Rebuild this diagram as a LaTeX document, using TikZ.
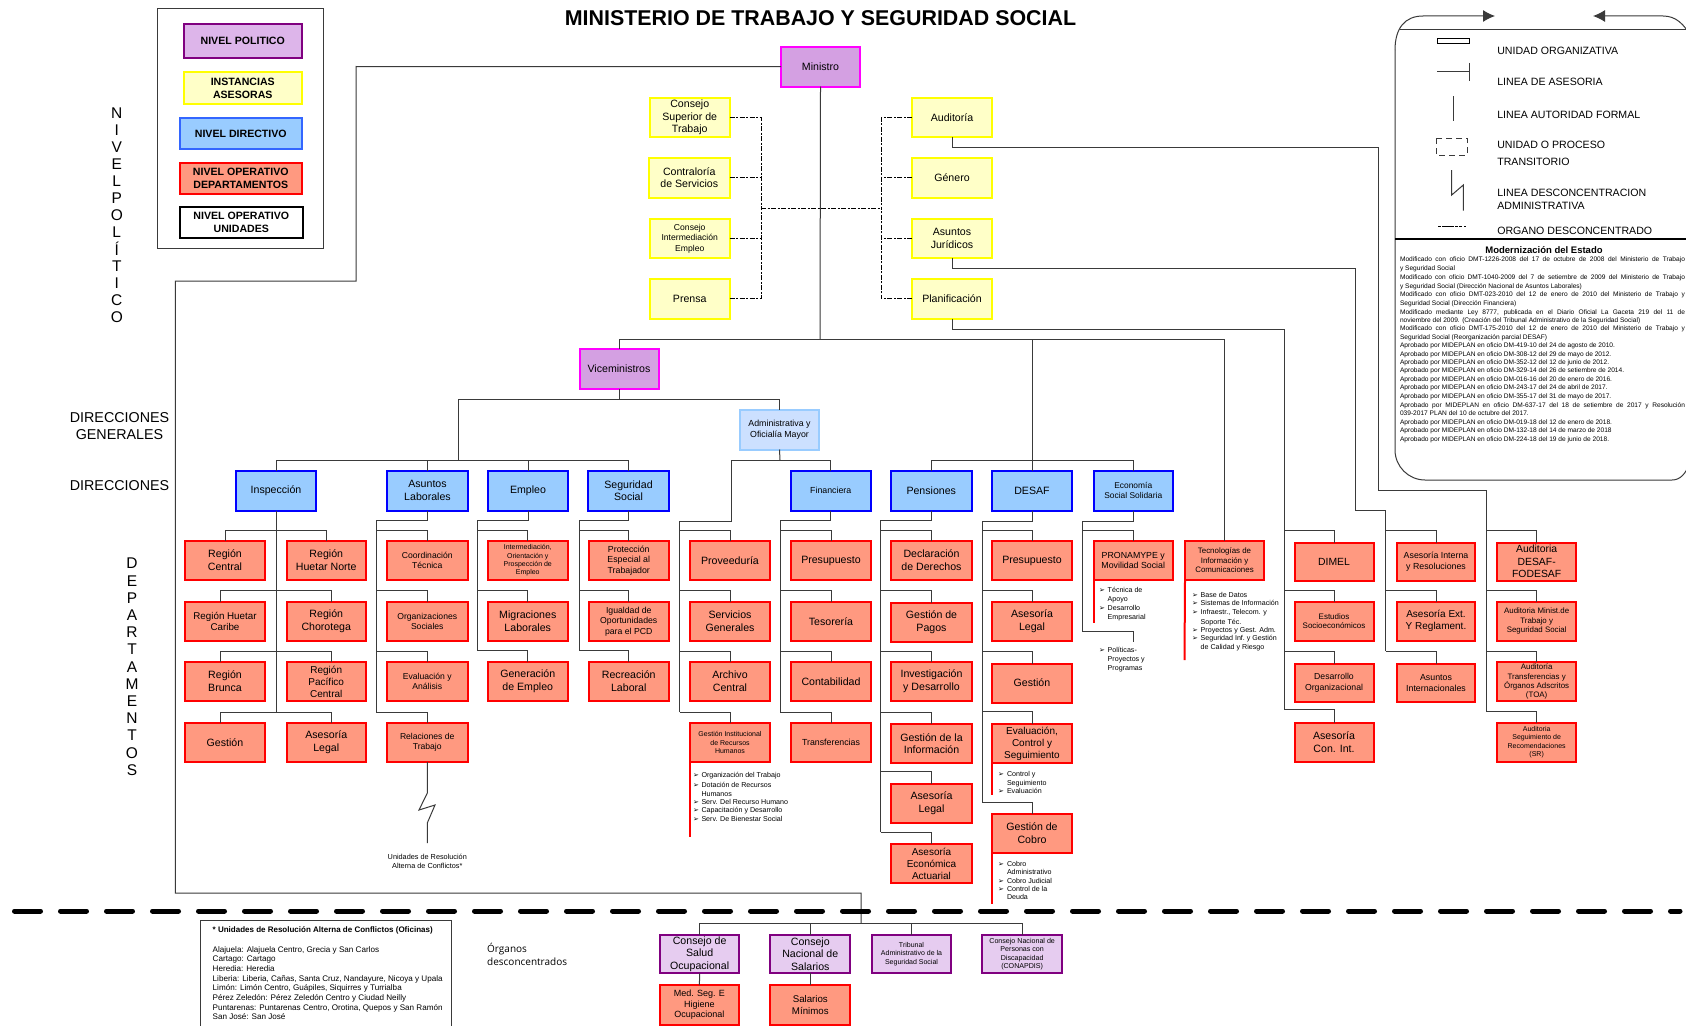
\documentclass[tikz,border=0pt]{standalone}
\usepackage{fontspec}
\setmainfont{Liberation Sans}
\newfontfamily\opensansf{Open Sans}
\newfontfamily\dejavuf{DejaVu Sans}
\usetikzlibrary{arrows.meta}
\definecolor{polfill}{HTML}{D4A0E2}
\definecolor{pollegend}{HTML}{DDB5EA}
\definecolor{descfill}{HTML}{E6CCF0}
\definecolor{purp}{HTML}{800080}
\definecolor{magen}{HTML}{FF00FF}
\definecolor{yelfill}{HTML}{FFFFC8}
\definecolor{yel}{HTML}{FFFF00}
\definecolor{blufill}{HTML}{99CCFF}
\definecolor{blu}{HTML}{0000FF}
\definecolor{blulegend}{HTML}{3366FF}
\definecolor{redfill}{HTML}{FF9980}
\definecolor{redb}{HTML}{FF0000}
\definecolor{admfill}{HTML}{CCE0FF}
\definecolor{linec}{HTML}{3A3A3A}
\newcommand{\fs}[1]{\pgfmathsetmacro\ld{#1*1.2}\fontsize{#1}{\ld}\selectfont}
\newcommand{\bx}[8]{\node[#1, font=\fs{#7}, minimum width={(#5-#3-2)*1pt}, minimum height={(#6-#4-2)*1pt}] (#2) at ({(#3+#5)/2},{(#4+#6)/2}) {#8};}
\newcounter{txtc}
\newcommand{\tx}[4]{\stepcounter{txtc}\node[txt, font=\fs{#3}] (t\arabic{txtc}) at (#1,{#2+0.36*#3}) {#4};}
\newcommand{\li}[5]{\stepcounter{txtc}\node[txt, font={\dejavuf\fontsize{7}{8}\selectfont}] (t\arabic{txtc}) at (#1,{#3+2.5}) {➢};\tx{#2}{#3}{#4}{#5}}
\newcommand{\br}[3]{\coordinate (j#3) at (#1,#2);\draw[conn] (j#3) -| (#3.north);}
\newcommand{\col}[4]{\coordinate (#1a) at (#2,#3);\coordinate (#1b) at (#2,#4);\draw[conn] (#1.south) |- (#1a) -- (#1b);}
\tikzset{
 boxbase/.style={draw, rectangle, inner sep=0pt, outer sep=0pt, align=center, line width=2pt, text=black},
 polbox/.style={boxbase, draw=magen, fill=polfill},
 yelbox/.style={boxbase, draw=yel, fill=yelfill},
 blubox/.style={boxbase, draw=blu, fill=blufill},
 admbox/.style={boxbase, draw=blufill, fill=admfill},
 redbox/.style={boxbase, draw=redb, fill=redfill},
 descbox/.style={boxbase, draw=purp, fill=descfill},
 conn/.style={draw=linec, line width=1pt},
 dashc/.style={draw=black, line width=1pt, dash pattern=on 5pt off 1.5pt on 2pt off 1.5pt},
 redl/.style={draw=redb, line width=2pt},
 txt/.style={anchor=base west, inner sep=0pt, outer sep=0pt, text=black},
 ctxt/.style={align=center, inner sep=0pt, outer sep=0pt, text=black},
 thinl/.style={draw=linec, line width=1pt},
}
\begin{document}
\begin{tikzpicture}[x=1pt,y=-1pt]
\useasboundingbox (0,0) rectangle (1686,1025);
\clip (0,0) rectangle (1686,1025);
\fill[white] (0,0) rectangle (1686,1025);

% title
\node[ctxt, font=\bfseries\fontsize{21.4}{25}\selectfont] (title) at (820.5,18) {MINISTERIO DE TRABAJO Y SEGURIDAD SOCIAL};

% legend left
\draw[draw=linec, line width=1pt] (157,9) rectangle (323.2,248);
\bx{boxbase, draw=purp, fill=pollegend}{lg1}{182.5}{23}{303}{59.5}{10.6}{\bfseries NIVEL POLITICO}
\bx{yelbox}{lg2}{182.5}{71}{303}{105}{10.6}{\bfseries INSTANCIAS\\\bfseries ASESORAS}
\bx{boxbase, draw=blulegend, fill=blufill}{lg3}{178.6}{117}{303}{150}{10.6}{\bfseries NIVEL DIRECTIVO}
\bx{redbox}{lg4}{178.6}{162}{303}{195}{10.6}{\bfseries NIVEL OPERATIVO\\\bfseries DEPARTAMENTOS}
\bx{boxbase, draw=black, fill=white}{lg5}{178.6}{206}{304}{238.5}{10.6}{\bfseries NIVEL OPERATIVO\\\bfseries UNIDADES}

% side labels
\foreach \l [count=\i] in {N,I,V,E,L,P,O,L,Í,T,I,C,O}
  \node[ctxt, font=\fs{15.5}] (np\i) at (116.8,{112.7+17*(\i-1)}) {\l};
\foreach \l [count=\i] in {D,E,P,A,R,T,A,M,E,N,T,O,S}
  \node[ctxt, font=\fs{15.5}] (dp\i) at (132,{563.5+17.2*(\i-1)}) {\l};
\node[ctxt, font=\fs{14.3}] (dg) at (119.5,426) {DIRECCIONES\\GENERALES};
\node[ctxt, font=\fs{14.3}] (dd) at (119.5,485.5) {DIRECCIONES};

% top level
\bx{polbox}{min}{780}{46}{861}{87.5}{10.6}{Ministro}
\bx{yelbox}{cst}{649}{97}{730.5}{138}{10.6}{Consejo\\Superior de\\Trabajo}
\bx{yelbox}{cds}{648}{157}{730.5}{198.5}{10.6}{Contraloría\\de Servicios}
\bx{yelbox}{cie}{649}{218}{730.5}{259}{8.6}{Consejo\\Intermediación\\Empleo}
\bx{yelbox}{pre}{649}{278}{730.5}{319.5}{10.6}{Prensa}
\bx{yelbox}{aud}{911}{97}{993}{138}{10.6}{Auditoría}
\bx{yelbox}{gen}{911}{157}{993}{198.5}{10.6}{Género}
\bx{yelbox}{aju}{911}{218}{993}{259}{10.6}{Asuntos\\Jurídicos}
\bx{yelbox}{pla}{911}{278}{993}{319.5}{10.6}{Planificación}

\coordinate (bl) at (761,208);
\coordinate (brr) at (881,208);
\draw[dashc] (bl) -- (brr);
\draw[dashc] (cst.east) -| (bl);
\draw[dashc] (pre.east) -| (bl);
\draw[dashc] (cds.east) -| (bl);
\draw[dashc] (cie.east) -| (bl);
\draw[dashc] (aud.west) -| (brr);
\draw[dashc] (pla.west) -| (brr);
\draw[dashc] (gen.west) -| (brr);
\draw[dashc] (aju.west) -| (brr);

\coordinate (bus) at (820,339);
\bx{polbox}{vice}{578.5}{348}{659.5}{389.5}{10.6}{Viceministros}
\bx{admbox}{adm}{739}{409}{820}{450.5}{8.8}{Administrativa y\\Oficialía Mayor}

% direcciones
\bx{blubox}{insp}{235}{470}{317}{511.5}{10.6}{Inspección}
\bx{blubox}{asl}{386}{470}{469}{511.5}{10.6}{Asuntos\\Laborales}
\bx{blubox}{emp}{487}{470}{569}{511.5}{10.6}{Empleo}
\bx{blubox}{seg}{587}{470}{670}{511.5}{10.6}{Seguridad\\Social}
\bx{blubox}{fin}{789.5}{470}{872}{511.5}{8.8}{Financiera}
\bx{blubox}{pen}{890}{470}{972.5}{511.5}{10.6}{Pensiones}
\bx{blubox}{des}{991}{470}{1073}{511.5}{10.6}{DESAF}
\bx{blubox}{eco}{1092.5}{470}{1174}{511.5}{8.4}{Economía\\Social Solidaria}

% ministro connectors
\coordinate (w1) at (356,66.5);
\coordinate (w2) at (175.4,281);
\coordinate (w3) at (861,893);
\coordinate (w4) at (861,923.7);
\draw[conn] (min.west) -- (w1) |- (w2) |- (w3) -- (w4);
\draw[conn] (min.south) -- (bus);
\draw[conn] (bus) -| (vice.north);
\coordinate (vj) at (619,399);
\coordinate (b1) at (458,460);
\coordinate (b2) at (780,460);
\coordinate (b3) at (1032,460);
\draw[conn] (vice.south) -- (vj);
\draw[conn] (vj) -| (adm.north);
\draw[conn] (vj) -| (b1);
\draw[conn] (b1) -| (insp.north);
\draw[conn] (b1) -| (asl.north);
\draw[conn] (b1) -| (emp.north);
\draw[conn] (b1) -| (seg.north);
\draw[conn] (adm.south) -- (b2);
\draw[conn] (b2) -| (fin.north);
\coordinate (pa) at (731,521);
\coordinate (pb) at (679.5,521);
\coordinate (pc) at (679.5,712);
\draw[conn] (b2) -| (pa) -- (pb) -- (pc);
\draw[conn] (bus -| des.north) -- (des.north);
\draw[conn] (b3) -| (pen.north);
\draw[conn] (b3) -| (eco.north);

% departamentos: Inspeccion
\bx{redbox}{i1}{184}{540}{266}{581}{10.6}{Región\\Central}
\bx{redbox}{i2}{285.5}{540}{367}{581}{10.6}{Región\\Huetar Norte}
\bx{redbox}{i3}{184}{601}{266}{642}{9.8}{Región Huetar\\Caribe}
\bx{redbox}{i4}{285.5}{601}{367}{642}{10.6}{Región\\Chorotega}
\bx{redbox}{i5}{184}{661}{266}{702}{10.6}{Región\\Brunca}
\bx{redbox}{i6}{285.5}{661}{367}{702}{10}{Región\\Pacífico\\Central}
\bx{redbox}{i7}{184}{722}{266}{763}{10.6}{Gestión}
\bx{redbox}{i8}{285.5}{722}{367}{763}{10.6}{Asesoría\\Legal}
\coordinate (iend) at (276,712);
\draw[conn] (insp.south) -- (iend);
\coordinate (r1) at (276,530);
\coordinate (r2) at (276,590.7);
\coordinate (r3) at (276,651);
\draw[conn] (r1) -| (i1.north);
\draw[conn] (r1) -| (i2.north);
\draw[conn] (r2) -| ([xshift=-5pt]i3.north);
\draw[conn] (r2) -| ([xshift=5pt]i4.north);
\draw[conn] (r3) -| ([xshift=-5pt]i5.north);
\draw[conn] (r3) -| ([xshift=5pt]i6.north);
\draw[conn] (iend) -| ([xshift=-5pt]i7.north);
\draw[conn] (iend) -| ([xshift=5pt]i8.north);

% Asuntos Laborales
\bx{redbox}{a1}{386}{540}{468.5}{581}{8.6}{Coordinación\\Técnica}
\bx{redbox}{a2}{386}{601}{468.5}{642}{8.6}{Organizaciones\\Sociales}
\bx{redbox}{a3}{386}{661}{468.5}{702}{8.6}{Evaluación y\\Análisis}
\bx{redbox}{a4}{386}{722}{468.5}{763}{8.6}{Relaciones de\\Trabajo}
\col{asl}{376.7}{520.5}{712.7}
\br{376.7}{530}{a1}\br{376.7}{590.7}{a2}\br{376.7}{651}{a3}\br{376.7}{712.7}{a4}
\coordinate (zend) at (427.3,843);
\draw[thinl] (a4.south) -- (427.3,793) -- (419,810) -- (435,805) -- (427.3,823) -- (zend);
\node[ctxt, font=\fs{7.3}] (ura) at (427.3,861) {Unidades de Resolución\\Alterna de Conflictos*};

% Empleo
\bx{redbox}{e1}{486.5}{540}{569}{581}{7}{Intermediación,\\Orientación y\\Prospección de\\Empleo}
\bx{redbox}{e2}{486.5}{601}{569}{642}{10.6}{Migraciones\\Laborales}
\bx{redbox}{e3}{486.5}{661}{569}{702}{10.6}{Generación\\de Empleo}
\col{emp}{477}{520.5}{650}
\br{477}{530}{e1}\br{477}{590.7}{e2}\br{477}{650}{e3}

% Seguridad Social
\bx{redbox}{s1}{587.5}{540}{670}{581}{8.8}{Protección\\Especial al\\Trabajador}
\bx{redbox}{s2}{587.5}{601}{670}{642}{8.7}{Igualdad de\\Oportunidades\\para el PCD}
\bx{redbox}{s3}{587.5}{661}{670}{702}{10.6}{Recreación\\Laboral}
\col{seg}{579}{520.5}{650}
\br{579}{530}{s1}\br{579}{590.7}{s2}\br{579}{650}{s3}

% Administrativa
\bx{redbox}{p1}{689}{540}{771}{581}{10.6}{Proveeduría}
\bx{redbox}{p2}{689}{601}{771}{642}{10.6}{Servicios\\Generales}
\bx{redbox}{p3}{689}{661}{771}{702}{10.6}{Archivo\\Central}
\bx{redbox}{p4}{689}{722}{771}{763}{7}{Gestión Institucional\\de Recursos\\Humanos}
\br{679.5}{530}{p1}\br{679.5}{590.7}{p2}\br{679.5}{651}{p3}\br{679.5}{712}{p4}
\coordinate (rp) at (690,837);
\draw[redl] (p4.south west) -- (rp);
\li{693}{701.5}{775.3}{7.1}{Organización del Trabajo}
\li{693}{701.5}{785}{7.1}{Dotación de Recursos}
\tx{701.5}{793.7}{7.1}{Humanos}
\li{693}{701.5}{802}{7.1}{Serv. Del Recurso Humano}
\li{693}{701.5}{810.3}{7.1}{Capacitación y Desarrollo}
\li{693}{701.5}{819}{7.1}{Serv. De Bienestar Social}

% Financiera
\bx{redbox}{f1}{790}{540}{872}{581}{10.6}{Presupuesto}
\bx{redbox}{f2}{790}{601}{872}{642}{10.6}{Tesorería}
\bx{redbox}{f3}{790}{661}{872}{702}{10.6}{Contabilidad}
\bx{redbox}{f4}{790}{722}{872}{763}{8.8}{Transferencias}
\col{fin}{780}{520.5}{712}
\br{780}{530}{f1}\br{780}{590.7}{f2}\br{780}{651}{f3}\br{780}{712}{f4}

% Pensiones
\bx{redbox}{n1}{890}{540}{973}{581}{10.6}{Declaración\\de Derechos}
\bx{redbox}{n2}{890}{602}{973}{643}{10.6}{Gestión de\\Pagos}
\bx{redbox}{n3}{890}{661}{973}{702}{10.6}{Investigación\\y Desarrollo}
\bx{redbox}{n4}{890}{723}{973}{764}{10.6}{Gestión de la\\Información}
\bx{redbox}{n5}{890}{782.5}{973}{823.5}{10.6}{Asesoría\\Legal}
\bx{redbox}{n6}{890}{843}{973}{884}{10}{Asesoría\\Económica\\Actuarial}
\col{pen}{880.7}{520.5}{832.3}
\br{880.7}{530}{n1}\br{880.7}{590.7}{n2}\br{880.7}{651}{n3}\br{880.7}{712}{n4}\br{880.7}{771}{n5}\br{880.7}{832.3}{n6}

% DESAF
\bx{redbox}{d1}{991}{540}{1073}{581}{10.6}{Presupuesto}
\bx{redbox}{d2}{991}{601}{1073}{642}{10.6}{Asesoría\\Legal}
\bx{redbox}{d3}{991}{662.5}{1073}{703.5}{10.6}{Gestión}
\bx{redbox}{d4}{991}{723}{1073}{764}{10}{Evaluación,\\Control y\\Seguimiento}
\bx{redbox}{d5}{991}{812.5}{1073}{853.5}{10.6}{Gestión de\\Cobro}
\col{des}{982.3}{521.7}{802.7}
\br{982.3}{530}{d1}\br{982.3}{590.7}{d2}\br{982.3}{651}{d3}\br{982.3}{711.7}{d4}\br{982.3}{802.7}{d5}
\coordinate (rd4) at (992,795);
\coordinate (rd5) at (992,904);
\draw[redl] (d4.south west) -- (rd4);
\draw[redl] (d5.south west) -- (rd5);
\li{998}{1007}{774.3}{7.1}{Control y}
\tx{1007}{782.7}{7.1}{Seguimiento}
\li{998}{1007}{791.3}{7.1}{Evaluación}
\li{998}{1007}{863.7}{7.1}{Cobro}
\tx{1007}{872.3}{7.1}{Administrativo}
\li{998}{1007}{880.7}{7.1}{Cobro Judicial}
\li{998}{1007}{889.3}{7.1}{Control de la}
\tx{1007}{897.3}{7.1}{Deuda}

% Economia
\bx{redbox}{c1}{1092.5}{540}{1174}{581}{8.8}{PRONAMYPE y\\Movilidad Social}
\col{eco}{1082.7}{521.7}{631.7}
\br{1082.7}{530}{c1}
\coordinate (cend) at (1133.3,641.7);
\draw[conn] (ecob) -| (cend);
\coordinate (rc1) at (1093.5,622.7);
\draw[redl] (c1.south west) -- (rc1);
\li{1099}{1107.7}{590}{7.1}{Técnica de}
\tx{1107.7}{598.7}{7.1}{Apoyo}
\li{1099}{1107.7}{608.3}{7.1}{Desarrollo}
\tx{1107.7}{616.7}{7.1}{Empresarial}
\li{1099}{1107.7}{650.3}{7.1}{Políticas-}
\tx{1107.7}{659.3}{7.1}{Proyectos y}
\tx{1107.7}{668}{7.1}{Programas}

% Tecnologias
\bx{redbox}{tec}{1184}{540}{1265}{581}{7.9}{Tecnologías de\\Información y\\Comunicaciones}
\draw[conn] (bus) -| (tec.north);
\coordinate (rt) at (1184.5,660);
\draw[redl] (tec.south west) -- (rt);
\li{1192}{1200.7}{595}{7.1}{Base de Datos}
\li{1192}{1200.7}{603.3}{7.1}{Sistemas de Información}
\li{1192}{1200.7}{612}{7.1}{Infraestr., Telecom. y}
\tx{1200.7}{621.7}{7.1}{Soporte Téc.}
\li{1192}{1200.7}{630}{7.1}{Proyectos y Gest. Adm.}
\li{1192}{1200.7}{638.3}{7.1}{Seguridad Inf.\ y Gestión}
\tx{1200.7}{647}{7.1}{de Calidad y Riesgo}

% Planificacion group
\bx{redbox}{m1}{1293.5}{541.5}{1374.5}{582}{10.4}{DIMEL}
\bx{redbox}{m2}{1293.5}{601}{1374.5}{641.5}{8}{Estudios\\Socioeconómicos}
\bx{redbox}{m3}{1293.5}{662.5}{1374.5}{703}{8.7}{Desarrollo\\Organizacional}
\bx{redbox}{m4}{1293.5}{722}{1374.5}{762.7}{10.6}{Asesoría\\Con. Int.}
\coordinate (pl1) at (1284,329.3);
\coordinate (pl2) at (1284,709.7);
\draw[conn] (pla.south) |- (pl1) -- (pl2);
\br{1284}{530}{m1}\br{1284}{590.7}{m2}\br{1284}{651}{m3}\br{1284}{709.7}{m4}

% Asuntos Juridicos group
\bx{redbox}{q1}{1396}{541.5}{1476}{582}{8.8}{Asesoría Interna\\y Resoluciones}
\bx{redbox}{q2}{1396}{601}{1476}{641.5}{10}{Asesoría Ext.\\Y Reglament.}
\bx{redbox}{q3}{1396}{662.5}{1476}{703}{8.8}{Asuntos\\Internacionales}
\coordinate (aj1) at (1355.7,268.3);
\coordinate (aj2) at (1355.7,510.7);
\coordinate (aj3) at (1385.7,510.7);
\coordinate (aj4) at (1385.7,651);
\draw[conn] (aju.south) |- (aj1) -- (aj2) -- (aj3) -- (aj4);
\br{1385.7}{530}{q1}\br{1385.7}{590.7}{q2}\br{1385.7}{651}{q3}

% Auditoria group
\bx{redbox}{u1}{1496.3}{541.5}{1577}{582}{10.4}{Auditoria\\DESAF-\\FODESAF}
\bx{redbox}{u2}{1496.3}{600.7}{1577}{641.7}{7.9}{Auditoria Minist.de\\Trabajo y\\Seguridad Social}
\bx{redbox}{u3}{1496.3}{661.3}{1577}{702}{7.9}{Auditoría\\Transferencias y\\Órganos Adscritos\\(TOA)}
\bx{redbox}{u4}{1496.3}{722}{1577}{762.7}{7}{Auditoria\\Seguimiento de\\Recomendaciones\\(SR)}
\coordinate (au1) at (1378.3,147);
\coordinate (au2) at (1378.3,490);
\coordinate (au3) at (1486,490);
\coordinate (au4) at (1486,711.7);
\draw[conn] (aud.south) |- (au1) -- (au2) -- (au3) -- (au4);
\br{1486}{530}{u1}\br{1486}{590.7}{u2}\br{1486}{651}{u3}\br{1486}{711.7}{u4}

% thick dashed
\coordinate (dl) at (14.5,911);
\coordinate (dr) at (1680,911);
\draw[black, line width=5pt, line cap=round, dash pattern=on 26pt off 20pt] (dl) -- (dr);

% desconcentrados
\bx{descbox}{o1}{659.3}{933.7}{740}{974.3}{10.6}{Consejo de\\Salud\\Ocupacional}
\bx{descbox}{o2}{769.3}{933.7}{851.3}{974.3}{10.6}{Consejo\\Nacional de\\Salarios}
\bx{descbox}{o3}{871}{933.7}{952}{974.3}{7}{Tribunal\\Administrativo de la\\Seguridad Social}
\bx{descbox}{o4}{981.3}{933.7}{1063}{974.3}{7.1}{Consejo Nacional de\\Personas con\\Discapacidad\\(CONAPDIS)}
\bx{redbox}{o5}{659.3}{984}{739.5}{1025.5}{9}{Med. Seg. E\\Higiene\\Ocupacional}
\bx{redbox}{o6}{769.3}{984}{851.3}{1025.5}{9.7}{Salarios\\Mínimos}
\draw[conn] (w4) -| (o1.north);
\draw[conn] (w4) -| (o2.north);
\draw[conn] (w4) -| (o3.north);
\draw[conn] (w4) -| (o4.north);
\draw[conn] (o1.south) -- (o5.north);
\draw[conn] (o2.south) -- (o6.north);

% note box
\draw[draw=linec, line width=1pt] (200.7,1032) -- (200.7,920) -- (451.7,920) -- (451.7,1032);
\tx{212.7}{930}{8}{\bfseries * Unidades de Resolución Alterna de Conflictos (Oficinas)}
\tx{212.7}{949.3}{8.1}{Alajuela: Alajuela Centro, Grecia y San Carlos}
\tx{212.7}{959}{8.1}{Cartago: Cartago}
\tx{212.7}{968.7}{8.1}{Heredia: Heredia}
\tx{212.7}{978.3}{8.1}{Liberia: Liberia, Cañas, Santa Cruz, Nandayure, Nicoya y Upala}
\tx{212.7}{988}{8.1}{Limón: Limón Centro, Guápiles, Siquirres y Turrialba}
\tx{212.7}{997.7}{8.1}{Pérez Zeledón: Pérez Zeledón Centro y Ciudad Neilly}
\tx{212.7}{1007.3}{8.1}{Puntarenas: Puntarenas Centro, Orotina, Quepos y San Ramón}
\tx{212.7}{1017}{8.1}{San José: San José}
\node[anchor=base west, align=left, inner sep=0pt, font={\opensansf\fontsize{10}{13}\selectfont}] (orgd) at (487,965.5) {Órganos\\desconcentrados};

% legend right
\coordinate (la) at (1495,16);
\coordinate (lb) at (1593,16);
\coordinate (lc) at (1395,50);
\draw[thinl, -{Latex[length=12pt,width=12pt]}] (lc) .. controls (1395,28) and (1405,16) .. (1423,16) -- (la);
\draw[thinl, -{Latex[length=12pt,width=12pt]}] (1692,38) .. controls (1684,24) and (1676,16) .. (1663,16) -- (lb);
\coordinate (lt) at (1400,30);
\draw[draw=linec, line width=1pt] (lt) -- (1690,30);
\draw[thinl] (lc) -- (1395,450) .. controls (1395,466.5) and (1408.5,480) .. (1425,480) -- (1672,480) .. controls (1680,480) and (1686,474) .. (1690,462);
\draw[draw=black, line width=1.4pt] (1395,239) -- (1690,239);
\draw[draw=black, line width=1pt] (1437.5,38.8) rectangle (1469,44);
\draw[thinl] (1437,72) -- (1469,72) (1469,63) -- (1469,81);
\draw[thinl] (1453,96) -- (1453,121);
\draw[thinl, dash pattern=on 6pt off 4pt] (1436,138) rectangle (1467,155);
\draw[thinl] (1451.7,170) -- (1451.7,195) -- (1463.3,185) -- (1463.3,210.7);
\draw[draw=black, line width=.8pt, dash pattern=on 2.5pt off 1.5pt on 12pt off 1pt on 2.5pt off 1.5pt on 2.5pt] (1438,226.7) -- (1467,226.7);
\tx{1497.3}{50.7}{10.6}{UNIDAD ORGANIZATIVA}
\tx{1497.3}{81.3}{10.6}{LINEA DE ASESORIA}
\tx{1497.3}{114.3}{10.6}{LINEA AUTORIDAD FORMAL}
\tx{1497.3}{145}{10.6}{UNIDAD O PROCESO}
\tx{1497.3}{161.7}{10.6}{TRANSITORIO}
\tx{1497.3}{192.7}{10.6}{LINEA DESCONCENTRACION}
\tx{1497.3}{205.7}{10.6}{ADMINISTRATIVA}
\tx{1497.3}{230.7}{10.6}{ORGANO DESCONCENTRADO}
\node[ctxt, font=\bfseries\fontsize{9.5}{11}\selectfont] (modt) at (1544,250) {Modernización del Estado};
\newcommand{\ml}[2]{\tx{1400}{#1}{6.6}{#2}}
\newcommand{\mj}[2]{\tx{1400}{#1}{6.6}{\makebox[285pt][s]{#2}}}
\mj{259.3}{Modificado con oficio DMT-1226-2008 del 17 de octubre de 2008 del Ministerio de Trabajo}
\ml{268}{y Seguridad Social}
\mj{276.7}{Modificado con oficio DMT-1040-2009 del 7 de setiembre de 2009 del Ministerio de Trabajo}
\ml{285.7}{y Seguridad Social (Dirección Nacional de Asuntos Laborales)}
\mj{294.3}{Modificado con oficio DMT-023-2010 del 12 de enero de 2010 del Ministerio de Trabajo y}
\ml{303}{Seguridad Social (Dirección Financiera)}
\mj{311.7}{Modificado mediante Ley 8777, publicada en el Diario Oficial La Gaceta 219 del 11 de}
\ml{320.3}{noviembre del 2009. (Creación del Tribunal Administrativo de la Seguridad Social)}
\mj{328.3}{Modificado con oficio DMT-175-2010 del 12 de enero de 2010 del Ministerio de Trabajo y}
\ml{336.7}{Seguridad Social (Reorganización parcial DESAF)}
\ml{345.3}{Aprobado por MIDEPLAN en oficio DM-419-10 del 24 de agosto de 2010.}
\ml{354}{Aprobado por MIDEPLAN en oficio DM-308-12 del 29 de mayo de 2012.}
\ml{362.3}{Aprobado por MIDEPLAN en oficio DM-352-12 del 12 de junio de 2012.}
\ml{370.3}{Aprobado por MIDEPLAN en oficio DM-329-14 del 26 de setiembre de 2014.}
\ml{379}{Aprobado por MIDEPLAN en oficio DM-016-16 del 20 de enero de 2016.}
\ml{387.3}{Aprobado por MIDEPLAN en oficio DM-243-17 del 24 de abril de 2017.}
\ml{396}{Aprobado por MIDEPLAN en oficio DM-355-17 del 31 de mayo de 2017.}
\mj{404.7}{Aprobado por MIDEPLAN en oficio DM-637-17 del 18 de setiembre de 2017 y Resolución}
\ml{413.3}{039-2017 PLAN del 10 de octubre del 2017.}
\ml{421.7}{Aprobado por MIDEPLAN en oficio DM-019-18 del 12 de enero de 2018.}
\ml{430.3}{Aprobado por MIDEPLAN en oficio DM-132-18 del 14 de marzo de 2018}
\ml{439}{Aprobado por MIDEPLAN en oficio DM-224-18 del 19 de junio de 2018.}
\end{tikzpicture}
\end{document}
